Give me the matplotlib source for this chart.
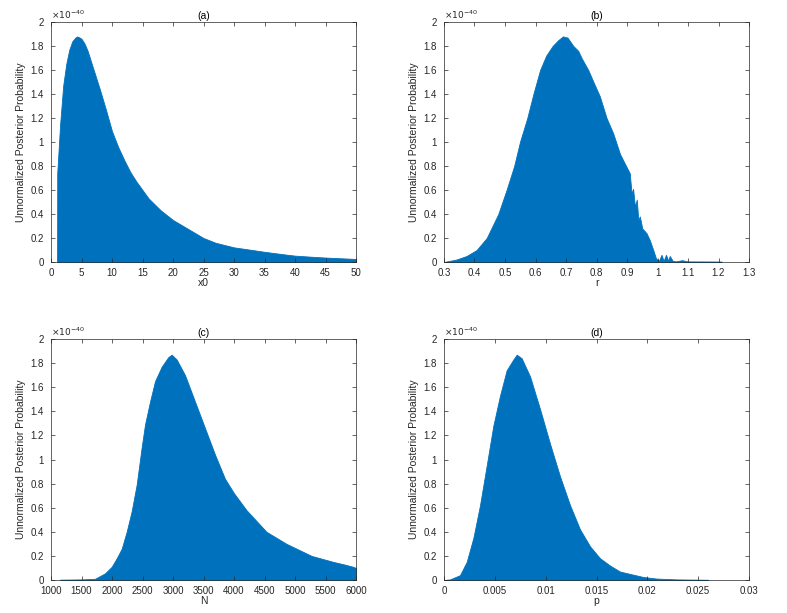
import matplotlib.pyplot as plt
from matplotlib.ticker import FuncFormatter
import numpy as np

plt.rcParams['font.family'] = ['Liberation Sans', 'DejaVu Sans']
plt.rcParams['font.size'] = 7

BLUE = '#0072BD'
GREY = '#262626'

# values in units of 1e-40
x0_vals = [1.0, 1.02, 1.5, 2, 2.5, 3, 3.5, 4, 4.3, 4.7, 5, 5.5, 6, 6.5, 7, 8, 9, 10, 11, 12,
           13, 14, 15, 16, 17, 18, 19, 20, 22, 24, 25, 27, 30, 33, 35, 38, 40, 43, 45, 48, 50]
x0_post = [0.0, 0.74, 1.15, 1.47, 1.65, 1.77, 1.84, 1.87, 1.88, 1.87, 1.86, 1.82, 1.76, 1.68,
           1.60, 1.44, 1.27, 1.09, 0.96, 0.85, 0.75, 0.67, 0.60, 0.53, 0.48, 0.43, 0.39, 0.35,
           0.29, 0.23, 0.20, 0.16, 0.122, 0.10, 0.085, 0.065, 0.053, 0.043, 0.037, 0.03, 0.025]

r_vals = [0.30, 0.32, 0.34, 0.374, 0.407, 0.44, 0.478, 0.505, 0.53, 0.549, 0.573, 0.593,
          0.615, 0.635, 0.656, 0.675, 0.69, 0.705, 0.724, 0.74, 0.751, 0.773, 0.79, 0.811,
          0.833, 0.855, 0.877, 0.899, 0.909, 0.915, 0.92, 0.926, 0.932, 0.937, 0.942, 0.95,
          0.964, 0.975, 0.986, 0.995, 1.005, 1.013, 1.02, 1.028, 1.035, 1.04, 1.05, 1.06,
          1.08, 1.1, 1.21]
r_post = [0.0, 0.01, 0.02, 0.05, 0.1, 0.2, 0.4, 0.6, 0.8, 1.0, 1.2, 1.4, 1.6, 1.72, 1.8,
          1.85, 1.88, 1.87, 1.8, 1.76, 1.7, 1.6, 1.5, 1.38, 1.2, 1.07, 0.9, 0.79, 0.74, 0.57,
          0.61, 0.46, 0.52, 0.35, 0.38, 0.28, 0.24, 0.18, 0.1, 0.03, 0.01, 0.06, 0.01, 0.06,
          0.01, 0.05, 0.01, 0.005, 0.015, 0.005, 0.004]

N_vals = [1150, 1500, 1721, 1885, 1995, 2077, 2159, 2240, 2322, 2404, 2486, 2541, 2623, 2705,
          2814, 2923, 2978, 3060, 3197, 3361, 3525, 3689, 3852, 4000, 4204, 4532, 4861, 5272,
          5630, 5800, 5950, 6000]
N_post = [0.003, 0.005, 0.01, 0.055, 0.11, 0.18, 0.26, 0.40, 0.57, 0.79, 1.1, 1.29, 1.48,
          1.65, 1.77, 1.85, 1.87, 1.83, 1.7, 1.48, 1.26, 1.04, 0.84, 0.72, 0.58, 0.4, 0.3,
          0.2, 0.15, 0.13, 0.11, 0.1]

p_vals = [0.0, 0.00059, 0.00157, 0.00223, 0.00289, 0.00354, 0.0042, 0.00485, 0.00551,
          0.00616, 0.00682, 0.00715, 0.00764, 0.00846, 0.00944, 0.01043, 0.01141, 0.0124,
          0.01338, 0.01436, 0.01535, 0.01633, 0.01731, 0.0196, 0.0209, 0.0229, 0.026]
p_post = [0.0, 0.005, 0.04, 0.15, 0.35, 0.62, 0.95, 1.28, 1.53, 1.74, 1.83, 1.87, 1.84, 1.69,
          1.42, 1.13, 0.86, 0.62, 0.42, 0.28, 0.18, 0.12, 0.07, 0.025, 0.012, 0.005, 0.002]

panels = [
    ('(a)', 'x0', x0_vals, x0_post, (0, 50), np.arange(0, 51, 5)),
    ('(b)', 'r', r_vals, r_post, (0.3, 1.3), np.arange(0.3, 1.31, 0.1)),
    ('(c)', 'N', N_vals, N_post, (1000, 6000), np.arange(1000, 6001, 500)),
    ('(d)', 'p', p_vals, p_post, (0, 0.03), np.arange(0, 0.0301, 0.005)),
]
positions = [
    [51/787, 351/613, 305/787, 240/613],
    [444/787, 351/613, 305/787, 240/613],
    [51/787, 33/613, 305/787, 241/613],
    [444/787, 33/613, 305/787, 241/613],
]

fig = plt.figure(figsize=(7.87, 6.13), dpi=100)

for (title, xlab, xs, ys, xlim, xticks), pos in zip(panels, positions):
    ax = fig.add_axes(pos)
    ax.fill_between(xs, 0, ys, color=BLUE, linewidth=0.6, edgecolor=BLUE)
    ax.set_xlim(*xlim)
    ax.set_ylim(0, 2)
    ax.set_xticks(xticks)
    ax.set_yticks(np.arange(0, 2.01, 0.2))
    ax.xaxis.set_major_formatter(FuncFormatter(lambda v, _: '%g' % round(v, 6)))
    ax.yaxis.set_major_formatter(FuncFormatter(lambda v, _: '%g' % round(v, 6)))
    ax.tick_params(direction='in', top=True, right=True, length=3, width=0.5,
                   colors=GREY, labelsize=7)
    ax.tick_params(axis='x', pad=4)
    ax.tick_params(axis='y', pad=5)
    for s in ax.spines.values():
        s.set_linewidth(0.5)
        s.set_color(GREY)
    ax.set_title(title, fontsize=7.5, color='black', pad=2)
    ax.set_xlabel(xlab, fontsize=7.5, color=GREY, labelpad=0)
    ax.set_ylabel('Unnormalized Posterior Probability', fontsize=7.5, color=GREY, labelpad=3)
    ax.text(0.0, 1.005, r'$\times10^{-40}$', transform=ax.transAxes, fontsize=6.5,
            color=GREY, ha='left', va='bottom')

fig.savefig('out.png', dpi=100)
